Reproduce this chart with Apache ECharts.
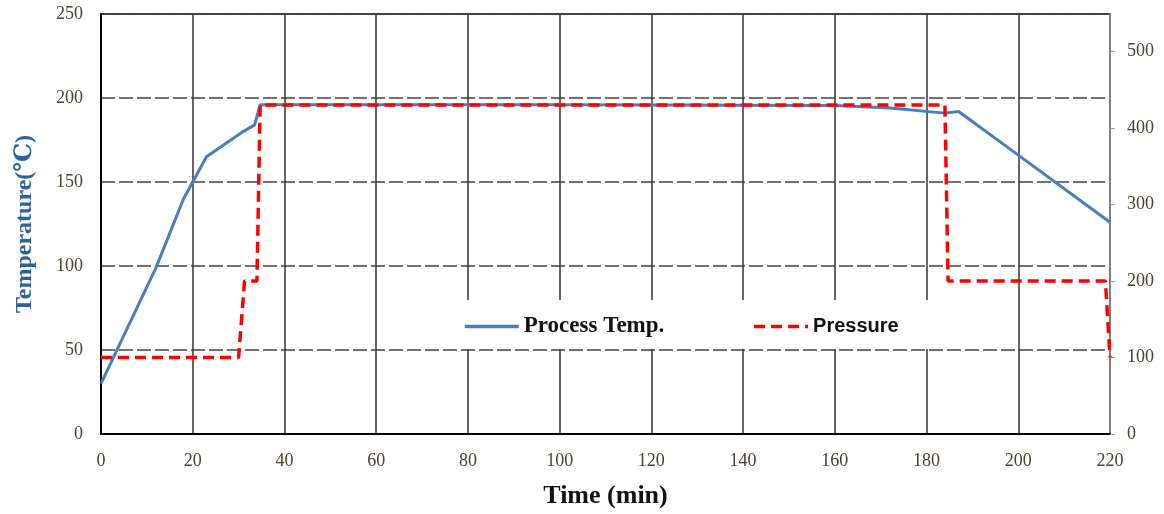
<!DOCTYPE html>
<html>
<head>
<meta charset="utf-8">
<script src="https://cdn.jsdelivr.net/npm/echarts@6/dist/echarts.min.js"></script>
<style>
  html, body { margin: 0; padding: 0; background: #fff; }
  #main { width: 1164px; height: 514px; }
</style>
</head>
<body>
<div id="main"></div>
<script>
        var timeTicks = [0, 20, 40, 60, 80, 100, 120, 140, 160, 180, 200, 220];

        // process temperature (C) vs time (min)
        var timeTemp = [0, 12, 18, 20, 23, 31, 33.5, 34.7, 100, 160, 172, 184, 187, 200, 220];
        var temp = [30, 99, 140, 150, 165, 180, 184, 196, 196, 195.5, 194, 191, 192, 166, 126];

        // pressure vs time (min)
        var timePress = [0, 30, 31.3, 34, 34.7, 184, 184.7, 219, 220];
        var press = [100, 100, 200, 200, 430, 430, 200, 200, 100];

        var tempData = timeTemp.map(function (t, i) { return [t, temp[i]]; });
        var pressData = timePress.map(function (t, i) { return [t, press[i]]; });

        var myChart = echarts.init(document.getElementById('main'));

        var tickColor = '#4a4232';
        var serif = '"Liberation Serif", "DejaVu Serif", serif';

        var option = {
            animation: false,
            backgroundColor: '#fff',
            grid: {
                left: 101,
                right: 54,
                top: 14,
                bottom: 78,
                show: true,
                borderColor: '#000',
                borderWidth: 1.5
            },
            legend: {
                left: 457,
                top: 300,
                padding: [15, 69, 11, 6],
                backgroundColor: '#fff',
                itemWidth: 54,
                itemHeight: 14,
                itemGap: 88,
                itemTextGap: 3,
                itemStyle: {opacity: 0},
                data: [
                    {
                        name: 'Process Temp.',
                        lineStyle: {width: 3.5},
                        textStyle: {fontFamily: serif, fontWeight: 'bold', fontSize: 23, color: '#111'}
                    },
                    {
                        name: 'Pressure',
                        lineStyle: {width: 3.5, type: [11, 6]},
                        textStyle: {fontFamily: '"Liberation Sans", Arial, sans-serif', fontWeight: 'bold', fontSize: 20, color: '#111'}
                    }
                ]
            },
            xAxis: {
                type: 'value',
                min: 0,
                max: 220,
                interval: 20,
                name: 'Time (min)',
                nameLocation: 'middle',
                nameGap: 49,
                nameTextStyle: {fontFamily: serif, fontWeight: 'bold', fontSize: 26, color: '#111'},
                axisLine: {lineStyle: {color: '#000', width: 2}},
                axisTick: {show: false},
                axisLabel: {
                    margin: 18,
                    fontFamily: serif,
                    fontSize: 18,
                    color: tickColor,
                    formatter: function (v) { return timeTicks.indexOf(v) >= 0 ? String(v) : ''; }
                },
                splitLine: {show: true, lineStyle: {color: '#333', width: 1.5, type: 'solid'}}
            },
            yAxis: [
                {
                    type: 'value',
                    min: 0,
                    max: 250,
                    interval: 50,
                    name: 'Temperature(\u2103)',
                    nameLocation: 'middle',
                    nameGap: 64,
                    nameTextStyle: {fontFamily: serif, fontWeight: 'bold', fontSize: 24, color: '#2f5f9c'},
                    axisLine: {show: true, lineStyle: {color: '#000', width: 2}},
                    axisTick: {show: false},
                    axisLabel: {margin: 18, fontFamily: serif, fontSize: 18, color: tickColor},
                    splitLine: {show: true, lineStyle: {color: '#444', width: 1.5, type: [14, 4]}}
                },
                {
                    type: 'value',
                    min: 0,
                    max: 549,
                    interval: 100,
                    position: 'right',
                    axisLine: {show: true, lineStyle: {color: '#999', width: 1.5}},
                    axisTick: {show: true, length: 5, lineStyle: {color: '#999'}},
                    axisLabel: {margin: 17, fontFamily: serif, fontSize: 18, color: tickColor, showMaxLabel: false},
                    splitLine: {show: false}
                }
            ],
            series: [
                {
                    name: 'Process Temp.',
                    type: 'line',
                    yAxisIndex: 0,
                    data: tempData,
                    symbol: 'none',
                    color: '#4a7ebb',
                    lineStyle: {color: '#4a7ebb', width: 3},
                    z: 3
                },
                {
                    name: 'Pressure',
                    type: 'line',
                    yAxisIndex: 1,
                    data: pressData,
                    symbol: 'none',
                    color: '#ff0000',
                    lineStyle: {color: '#ff0000', width: 3.5, type: [11, 6]},
                    z: 4
                }
            ]
        };

        myChart.setOption(option);
</script>
</body>
</html>
